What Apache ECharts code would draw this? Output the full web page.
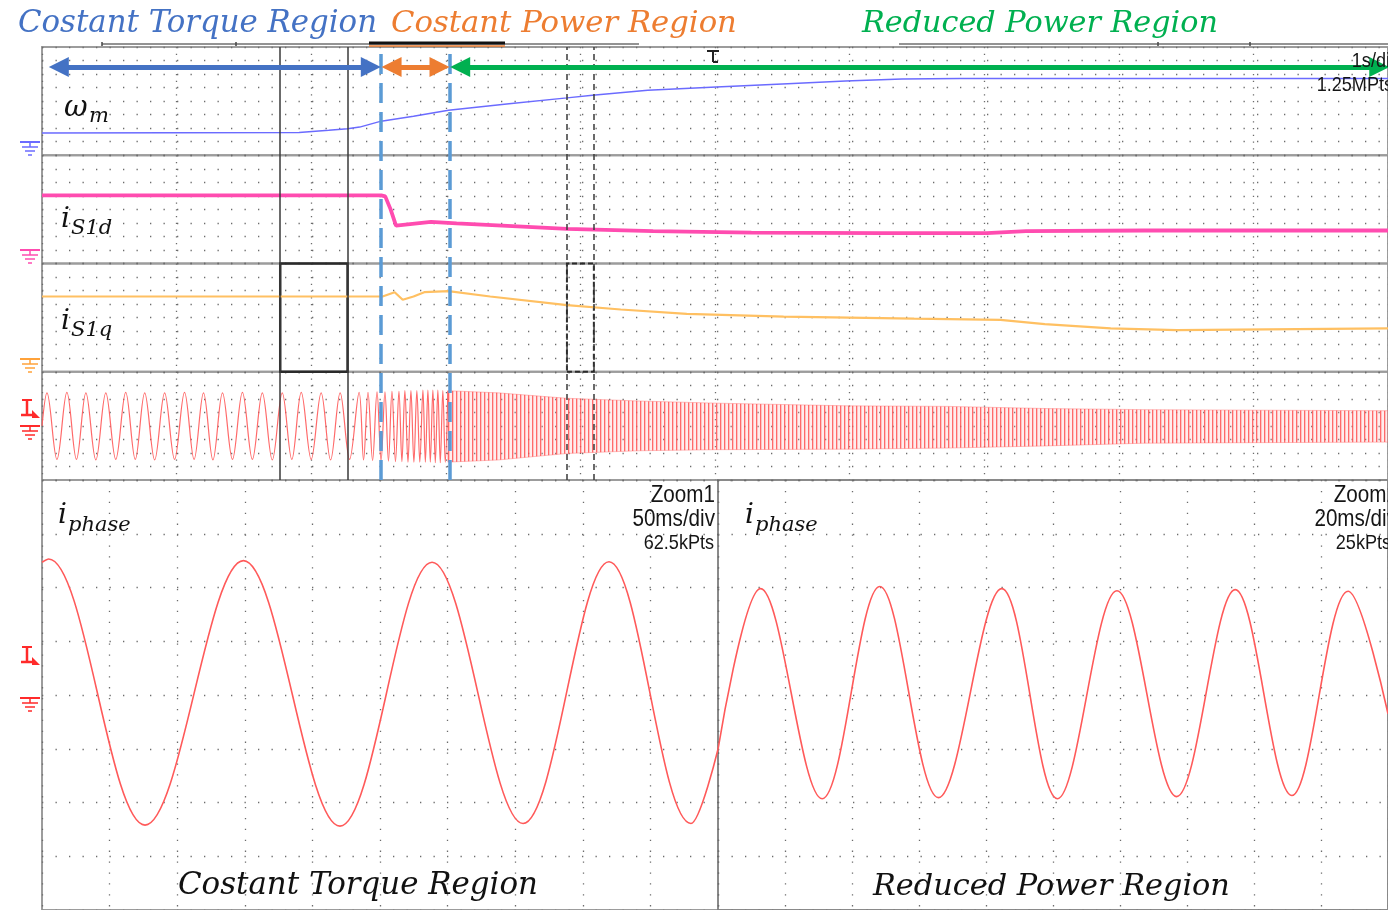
<!DOCTYPE html>
<html>
<head>
<meta charset="utf-8">
<title>Phase current and dq currents across speed regions</title>
<script src="https://cdn.jsdelivr.net/npm/echarts@6/dist/echarts.min.js"></script>
<style>
  html, body { margin: 0; padding: 0; background: #ffffff; }
  #chart { width: 1388px; height: 910px; }
</style>
</head>
<body>
<div id="chart"></div>
<script>
// ---------------------------------------------------------------------------
// Main acquisition: time in s (1 s/div), level in divisions above panel floor
// ---------------------------------------------------------------------------
const omegaM = [
  [0, 0.41], [1.91, 0.42], [2.13, 0.46], [2.27, 0.49], [2.36, 0.52], [2.52, 0.63],
  [2.76, 0.72], [3.02, 0.83], [3.47, 0.95], [3.90, 1.06], [4.09, 1.11], [4.50, 1.20],
  [5.01, 1.26], [5.54, 1.32], [5.97, 1.37], [6.39, 1.41], [6.82, 1.42], [10, 1.42]
];

const iS1d = [
  [0, 1.26], [2.52, 1.26], [2.55, 1.24], [2.59, 1.00], [2.63, 0.70], [2.70, 0.72],
  [2.89, 0.77], [3.08, 0.74], [3.57, 0.68], [3.90, 0.64], [4.54, 0.60], [5.27, 0.57],
  [6.24, 0.56], [7.02, 0.56], [7.31, 0.60], [8.19, 0.61], [10, 0.61]
];

const iS1q = [
  [0, 1.39], [2.53, 1.39], [2.62, 1.47], [2.68, 1.33], [2.76, 1.39], [2.84, 1.47],
  [3.02, 1.49], [3.33, 1.39], [3.90, 1.23], [4.30, 1.15], [4.79, 1.07], [5.51, 1.02],
  [6.48, 0.98], [7.12, 0.96], [7.45, 0.88], [7.94, 0.80], [8.43, 0.77], [10, 0.80]
];

// phase current, individual cycle extremes until the band becomes dense
const iPhaseCycles = [
  [0.000, 1.00], [0.037, 1.61], [0.111, 0.38], [0.185, 1.62], [0.256, 0.38], [0.326, 1.61],
  [0.400, 0.37], [0.474, 1.61], [0.548, 0.38], [0.622, 1.62], [0.693, 0.38], [0.763, 1.61],
  [0.837, 0.37], [0.911, 1.61], [0.985, 0.38], [1.059, 1.62], [1.130, 0.38], [1.200, 1.61],
  [1.270, 0.37], [1.341, 1.61], [1.415, 0.38], [1.489, 1.62], [1.563, 0.38], [1.637, 1.61],
  [1.711, 0.37], [1.785, 1.61], [1.856, 0.38], [1.926, 1.62], [2.000, 0.38], [2.074, 1.61],
  [2.144, 0.37], [2.215, 1.61], [2.285, 0.38], [2.356, 1.62], [2.389, 0.37], [2.422, 1.62],
  [2.456, 0.36], [2.489, 1.63], [2.519, 0.35], [2.548, 1.63], [2.574, 0.35], [2.600, 1.64],
  [2.626, 0.34], [2.652, 1.64], [2.674, 0.34], [2.696, 1.65], [2.719, 0.33], [2.741, 1.65],
  [2.763, 0.33], [2.785, 1.65], [2.807, 0.33], [2.830, 1.66], [2.848, 0.33], [2.867, 1.66],
  [2.885, 0.33], [2.904, 1.66], [2.922, 0.32], [2.941, 1.66], [2.959, 0.32], [2.978, 1.65],
  [2.996, 0.33], [3.015, 1.65]
];

// phase current envelope once the cycles merge: [time, upper, lower]
const iPhaseBand = [
  [3.015, 1.65, 0.33], [3.39, 1.61, 0.37], [3.90, 1.51, 0.49], [4.43, 1.46, 0.54],
  [5.01, 1.42, 0.56], [5.99, 1.37, 0.57], [6.73, 1.36, 0.59], [7.47, 1.32, 0.63],
  [8.19, 1.30, 0.68], [9.02, 1.29, 0.69], [10, 1.28, 0.70]
];

// ---------------------------------------------------------------------------
// Zoom windows: time in ms, level in divisions from the ground marker
// (peaks and troughs of the phase current plus the window end values)
// ---------------------------------------------------------------------------
const zoom1Phase = [
  [0, 2.47], [4.9, 2.53], [76.2, -2.42], [149, 2.50], [220.4, -2.44], [288.5, 2.47],
  [355.8, -2.39], [419.4, 2.48], [480, -2.39], [500, -1.01]
];

const zoom2Phase = [
  [0, -1.01], [12.7, 1.98], [31.1, -1.93], [48.3, 2.02], [65.8, -1.91], [84.7, 1.98],
  [101.3, -1.93], [119.1, 1.94], [136.9, -1.89], [154.4, 1.96], [171.3, -1.87],
  [188.1, 1.93], [200, -0.35]
];

// zoom spans and region limits on the main time base (s)
const zoom1Window = [1.77, 2.27];
const zoom2Window = [3.90, 4.10];
const regionBounds = [0.06, 2.52, 3.03, 10];

// text
const regionTitles = ['Costant Torque Region', 'Costant Power Region', 'Reduced Power Region'];
const mainScale = ['1s/div', '1.25MPts'];
const zoom1Scale = ['Zoom1', '50ms/div', '62.5kPts'];
const zoom2Scale = ['Zoom2', '20ms/div', '25kPts'];

// ---------------------------------------------------------------------------
const C = {
  blue: '#4472c4', orange: '#ed7d31', green: '#00b050', guide: '#5b9bd5',
  omega: '#6b6bff', isd: '#ff4cb0', isq: '#ffc062', phase: '#ff5a5a',
  dot: '#6c6c6c', frame: '#9c9c9c'
};

const TOP = 47, ROW = 108.25, LEFT = 42, WIDE = 1350, LOW_TOP = 480, LOW_H = 436;
// a cubic handle of 0.36 of the peak-to-trough spacing follows a sine closely
const SINE_SMOOTH = 0.36;

const hiddenAxis = { axisLine: { show: false }, axisTick: { show: false }, axisLabel: { show: false } };
const dots = (gap) => ({ show: true, lineStyle: { color: C.dot, width: 1.3, type: [1.3, gap] } });

const grid = [];
const xAxis = [];
const yAxis = [];
for (let i = 0; i < 4; i++) {
  grid.push({ left: LEFT, top: TOP + i * ROW, width: WIDE, height: ROW, show: true,
              borderColor: C.frame, borderWidth: 2, backgroundColor: 'transparent' });
  xAxis.push({ type: 'value', gridIndex: i, min: 0, max: 10, interval: 1, ...hiddenAxis, splitLine: dots(5.45) });
  yAxis.push({ type: 'value', gridIndex: i, min: 0, max: 2, interval: 0.25, ...hiddenAxis, splitLine: dots(12.2) });
}
// overlay spanning the whole main window (annotations)
grid.push({ left: LEFT, top: TOP, width: WIDE, height: 4 * ROW });
xAxis.push({ type: 'value', gridIndex: 4, min: 0, max: 10, ...hiddenAxis, splitLine: { show: false } });
yAxis.push({ type: 'value', gridIndex: 4, min: 0, max: 8, ...hiddenAxis, splitLine: { show: false } });
// zoom windows
grid.push({ left: LEFT, top: LOW_TOP, width: 676, height: LOW_H, show: true, borderColor: C.frame, borderWidth: 2 });
grid.push({ left: 718, top: LOW_TOP, width: 675, height: LOW_H, show: true, borderColor: '#8a8a8a', borderWidth: 2 });
xAxis.push({ type: 'value', gridIndex: 5, min: 0, max: 500, interval: 50, ...hiddenAxis, splitLine: dots(9.6) });
xAxis.push({ type: 'value', gridIndex: 6, min: 0, max: 200, interval: 20, ...hiddenAxis, splitLine: dots(9.6) });
yAxis.push({ type: 'value', gridIndex: 5, min: -4, max: 4, interval: 1, ...hiddenAxis, splitLine: dots(12.2) });
yAxis.push({ type: 'value', gridIndex: 6, min: -4, max: 4, interval: 1, ...hiddenAxis, splitLine: dots(12.2) });

// stripe fill for the dense phase-current band
const stripe = (() => {
  const c = document.createElement('canvas');
  c.width = 4; c.height = 4;
  const g = c.getContext('2d');
  g.fillStyle = 'rgba(255,80,80,0.85)'; g.fillRect(0, 0, 1, 4);
  g.fillStyle = 'rgba(255,120,120,0.45)'; g.fillRect(1, 0, 1, 4);
  g.fillStyle = 'rgba(255,175,175,0.22)'; g.fillRect(2, 0, 2, 4);
  return c;
})();

const trace = (name, idx, data, color, width, extra) => Object.assign({
  name, type: 'line', xAxisIndex: idx, yAxisIndex: idx, data,
  showSymbol: false, symbol: 'none', silent: true,
  lineStyle: { color, width }, z: 3
}, extra || {});

// arrow heads sit centred on the line ends; HEAD is half an arrow length in s
const HEAD = 0.065, GAP = 0.012, ARROW_Y = 7.63;
const arrow = (a, b, color) => [
  { coord: [a, ARROW_Y], symbol: 'triangle', symbolSize: 20, lineStyle: { color, width: 5, type: 'solid' } },
  { coord: [b, ARROW_Y], symbol: 'triangle', symbolSize: 20 }
];
const vline = (t, color, width, type) => ({ xAxis: t, lineStyle: { color, width, type } });

const series = [
  trace('omega_m', 0, omegaM, C.omega, 1.5),
  trace('i_S1d', 1, iS1d, C.isd, 3.8),
  trace('i_S1q', 2, iS1q, C.isq, 2.2, {
    markArea: {
      silent: true,
      data: [
        [{ xAxis: zoom1Window[0], yAxis: 0, itemStyle: { color: 'rgba(0,0,0,0)', borderColor: '#2b2b2b', borderWidth: 2.5 } },
         { xAxis: zoom1Window[1], yAxis: 2 }],
        [{ xAxis: zoom2Window[0], yAxis: 0, itemStyle: { color: 'rgba(0,0,0,0)', borderColor: '#2b2b2b', borderWidth: 2, borderType: [5, 3] } },
         { xAxis: zoom2Window[1], yAxis: 2 }]
      ]
    }
  }),
  trace('i_phase', 3, iPhaseCycles, C.phase, 1.2, { smooth: SINE_SMOOTH, lineStyle: { color: C.phase, width: 1.2, opacity: 0.9 } }),
  {
    name: 'i_phase band', type: 'custom', xAxisIndex: 3, yAxisIndex: 3, data: iPhaseBand,
    encode: { x: 0, y: [1, 2] }, silent: true, clip: true, z: 3,
    renderItem: (params, api) => {
      if (params.dataIndex !== 0) return null;
      const up = iPhaseBand.map(d => api.coord([d[0], d[1]]));
      const lo = iPhaseBand.slice().reverse().map(d => api.coord([d[0], d[2]]));
      return {
        type: 'polygon',
        shape: { points: up.concat(lo) },
        style: { fill: { image: stripe, repeat: 'repeat' }, stroke: 'rgba(255,100,100,0.4)', lineWidth: 1 }
      };
    }
  },
  {
    name: 'annotations', type: 'line', xAxisIndex: 4, yAxisIndex: 4, data: [], silent: true, z: 5,
    markLine: {
      silent: true, symbol: 'none', symbolSize: 20, animation: false,
      label: { show: false },
      data: [
        vline(zoom1Window[0], '#3a3a3a', 1.5, 'solid'),
        vline(zoom1Window[1], '#3a3a3a', 1.5, 'solid'),
        vline(zoom2Window[0], '#3a3a3a', 1.5, [6, 4]),
        vline(zoom2Window[1], '#3a3a3a', 1.5, [6, 4]),
        vline(regionBounds[1], C.guide, 3.5, [20, 9]),
        vline(regionBounds[2], C.guide, 3.5, [20, 9]),
        arrow(regionBounds[0] + HEAD, regionBounds[1] - GAP - HEAD, C.blue),
        arrow(regionBounds[1] + GAP + HEAD, regionBounds[2] - GAP - HEAD, C.orange),
        arrow(regionBounds[2] + GAP + HEAD, regionBounds[3] - HEAD, C.green)
      ]
    }
  },
  trace('i_phase zoom1', 5, zoom1Phase, C.phase, 1.6, { xAxisIndex: 5, yAxisIndex: 5, smooth: SINE_SMOOTH }),
  trace('i_phase zoom2', 6, zoom2Phase, C.phase, 1.6, { xAxisIndex: 6, yAxisIndex: 6, smooth: SINE_SMOOTH })
];

// ---------------------------------------------------------------------------
// Text and scope glyphs
// ---------------------------------------------------------------------------
const SERIF = '"DejaVu Serif", "Liberation Serif", serif';
const NARROW = '"Liberation Sans", Arial, sans-serif';
function fitSize(text, family, targetWidth) {
  const ctx = document.createElement('canvas').getContext('2d');
  ctx.font = 'italic 100px ' + family;
  return 100 * targetWidth / ctx.measureText(text).width;
}
function label(text, x, y, font, fill, align, extra) {
  return Object.assign({
    type: 'text', x, y, z: 100, silent: true,
    style: { text, font, fill, textAlign: align || 'left', align: align || 'left',
             textVerticalAlign: 'middle', verticalAlign: 'middle' }
  }, extra || {});
}
function title(text, x, baseline, width, fill) {
  const size = fitSize(text, SERIF, width);
  return label(text, x, baseline - 0.3 * size, 'italic ' + size.toFixed(2) + 'px ' + SERIF, fill);
}
function scopeText(text, right, y, size) {
  return label(text, right, y, size + 'px ' + NARROW, '#151515', 'right', { scaleX: 0.86 });
}
function mathLabel(main, sub, x, y, mainSize, subSize, subDx, subDy) {
  return [
    label(main, x, y, 'italic ' + mainSize + 'px ' + SERIF, '#111'),
    label(sub, x + subDx, y + subDy, 'italic ' + subSize + 'px ' + SERIF, '#111')
  ];
}
const seg = (x1, y1, x2, y2, stroke, lineWidth) =>
  ({ type: 'line', silent: true, z: 100, shape: { x1, y1, x2, y2 }, style: { stroke, lineWidth } });
function groundMark(cx, y, color) {
  return {
    type: 'group', silent: true, children: [
      seg(cx - 10, y, cx + 10, y, color, 2),
      seg(cx, y, cx, y + 5, color, 1.5),
      seg(cx - 8, y + 5, cx + 8, y + 5, color, 1.5),
      seg(cx - 5, y + 9, cx + 5, y + 9, color, 1.5),
      seg(cx - 2, y + 13, cx + 2, y + 13, color, 1.5)
    ]
  };
}
function levelMark(cx, y, color) {
  return {
    type: 'group', silent: true, children: [
      seg(cx - 5, y, cx + 5, y, color, 2),
      seg(cx, y, cx, y + 15, color, 2.5),
      seg(cx - 6, y + 15, cx + 6, y + 15, color, 2.5),
      { type: 'polygon', z: 100, shape: { points: [[cx + 5, y + 10], [cx + 13, y + 18], [cx + 5, y + 18]] }, style: { fill: color } }
    ]
  };
}

const graphic = [
  title(regionTitles[0], 18, 33, 359, C.blue),
  title(regionTitles[1], 391, 33, 346, C.orange),
  title(regionTitles[2], 862, 33, 356, C.green),
  title(regionTitles[0], 178, 895, 360, '#111'),
  title(regionTitles[2], 873, 896, 357, '#111'),

  // memory bar above the main window
  seg(102, 44, 639, 44, '#6f6f6f', 1.5),
  seg(899, 44, 1388, 44, '#6f6f6f', 1.5),
  seg(369, 46, 505, 46, C.orange, 1.5),
  seg(369, 43, 505, 43, '#111', 3),
  seg(102, 42, 102, 46, '#444', 1.5),
  seg(236, 42, 236, 46, '#444', 1.5),
  seg(1158, 42, 1158, 46, '#444', 1.5),
  seg(1250, 42, 1250, 46, '#444', 1.5),

  // trigger position
  seg(707, 51, 719, 51, '#222', 2),
  seg(713, 51, 713, 62, '#222', 2),
  seg(713, 62, 718, 62, '#222', 2),

  scopeText(mainScale[0], 1399, 61, 21),
  scopeText(mainScale[1], 1393, 85, 21),
  scopeText(zoom1Scale[0], 715, 495, 24),
  scopeText(zoom1Scale[1], 715, 519, 24),
  scopeText(zoom1Scale[2], 714, 543, 21),
  scopeText(zoom2Scale[0], 1398, 495, 24),
  scopeText(zoom2Scale[1], 1397, 519, 24),
  scopeText(zoom2Scale[2], 1391, 543, 21),

  ...mathLabel('ω', 'm', 64, 108, 29, 21, 25, 9),
  ...mathLabel('i', 'S1d', 61, 220, 28, 21, 10, 9),
  ...mathLabel('i', 'S1q', 61, 322, 28, 21, 10, 9),
  ...mathLabel('i', 'phase', 58, 516, 28, 21, 10, 10),
  ...mathLabel('i', 'phase', 745, 516, 28, 21, 10, 10),

  groundMark(30, 142, C.omega),
  groundMark(30, 250, C.isd),
  groundMark(30, 359, '#ffa23a'),
  levelMark(27, 400, '#ff2a2a'),
  groundMark(30, 426, '#ff2a2a'),
  levelMark(27, 647, '#ff2a2a'),
  groundMark(30, 698, '#ff2a2a')
];

const chart = echarts.init(document.getElementById('chart'), null, { renderer: 'canvas' });
chart.setOption({
  animation: false,
  backgroundColor: '#ffffff',
  grid, xAxis, yAxis, series, graphic
});
</script>
</body>
</html>
